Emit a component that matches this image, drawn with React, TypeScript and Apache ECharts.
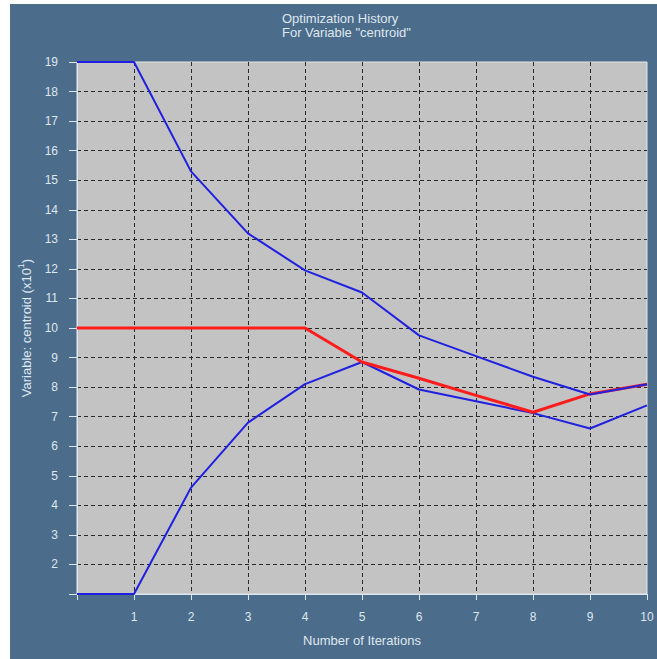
import React, { useEffect, useRef } from "react";
import * as echarts from "echarts";

const iterations = [0, 1, 2, 3, 4, 5, 6, 7, 8, 9, 10];
const upperBound = [19, 19, 15.3, 13.2, 11.95, 11.2, 9.75, 9.05, 8.35, 7.75, 8.1];
const lowerBound = [1, 1, 4.6, 6.8, 8.1, 8.85, 7.92, 7.52, 7.12, 6.6, 7.38];
const centroid = [10, 10, 10, 10, 10, 8.85, 8.3, 7.72, 7.15, 7.77, 8.1];

const titleLines = ["Optimization History", 'For Variable "centroid"'];
const xName = "Number of Iterations";
const yName = "{main|Variable: centroid (x10}{sup|1}{main|)}";

const FONT = "'Liberation Sans', Arial, Helvetica, sans-serif";
const LIGHT = "#dfe7ef";

const pairs = (ys: number[]) => iterations.map((x, i) => [x, ys[i]]);

export default function App() {
  const ref = useRef<HTMLDivElement>(null);
  useEffect(() => {
    if (!ref.current) return;
    const chart = echarts.init(ref.current, undefined, { renderer: "svg" });
    chart.setOption({
      animation: false,
      backgroundColor: "#ffffff",
      graphic: [
        {
          type: "rect",
          z: -10,
          silent: true,
          shape: { x: 10, y: 4, width: 660, height: 670 },
          style: { fill: "#4b6c8b" },
        },
        {
          type: "text",
          left: 362 - 80,
          top: 11,
          style: {
            text: titleLines.join("\n"),
            fill: LIGHT,
            font: `13px ${FONT}`,
            align: "center",
            lineHeight: 14,
            width: 160,
          },
        },
      ],
      grid: {
        left: 77,
        top: 62,
        width: 570,
        height: 532,
        show: true,
        backgroundColor: "#c3c3c3",
        borderColor: "#e6e6e6",
        borderWidth: 1,
      },
      xAxis: {
        type: "value",
        min: 0,
        max: 10,
        interval: 1,
        name: xName,
        nameLocation: "middle",
        nameGap: 40,
        nameTextStyle: { color: LIGHT, fontSize: 13, fontFamily: FONT },
        axisLine: { show: true, lineStyle: { color: "#dce6f0", width: 1 } },
        axisTick: { show: true, length: 6, lineStyle: { color: "#dce6f0" } },
        axisLabel: {
          color: LIGHT,
          fontSize: 12,
          fontFamily: FONT,
          margin: 17,
          formatter: (v: number) => (v === 0 ? "" : String(v)),
        },
        splitLine: {
          show: true,
          showMinLine: false,
          showMaxLine: false,
          lineStyle: { color: "#2a2a2a", type: [4, 3], width: 1 },
        },
      },
      yAxis: {
        type: "value",
        min: 1,
        max: 19,
        interval: 1,
        name: yName,
        nameLocation: "middle",
        nameGap: 41,
        nameRotate: 90,
        nameTextStyle: {
          color: LIGHT,
          fontSize: 13,
          fontFamily: FONT,
          rich: {
            main: { fontSize: 13, color: LIGHT, fontFamily: FONT, lineHeight: 20, verticalAlign: "middle" },
            sup: { fontSize: 9, color: LIGHT, fontFamily: FONT, verticalAlign: "top", lineHeight: 10 },
          },
        },
        axisLine: { show: true, lineStyle: { color: "#dce6f0", width: 1 } },
        axisTick: { show: true, length: 8, lineStyle: { color: "#dce6f0" } },
        axisLabel: {
          color: LIGHT,
          fontSize: 12,
          fontFamily: FONT,
          margin: 19,
          formatter: (v: number) => (v === 1 ? "" : String(v)),
        },
        splitLine: {
          show: true,
          showMinLine: false,
          showMaxLine: false,
          lineStyle: { color: "#2a2a2a", type: [4, 3], width: 1 },
        },
      },
      series: [
        {
          type: "line",
          data: pairs(lowerBound),
          showSymbol: false,
          lineStyle: { color: "#2020e0", width: 2 },
          z: 3,
        },
        {
          type: "line",
          data: pairs(centroid),
          showSymbol: false,
          lineStyle: { color: "#ff1c1c", width: 3 },
          z: 4,
        },
        {
          type: "line",
          data: pairs(upperBound),
          showSymbol: false,
          lineStyle: { color: "#2020e0", width: 2 },
          z: 5,
        },
      ],
    });
    return () => chart.dispose();
  }, []);
  return (
    <div
      ref={ref}
      style={{ position: "absolute", left: 0, top: 0, width: 657, height: 659 }}
    />
  );
}
